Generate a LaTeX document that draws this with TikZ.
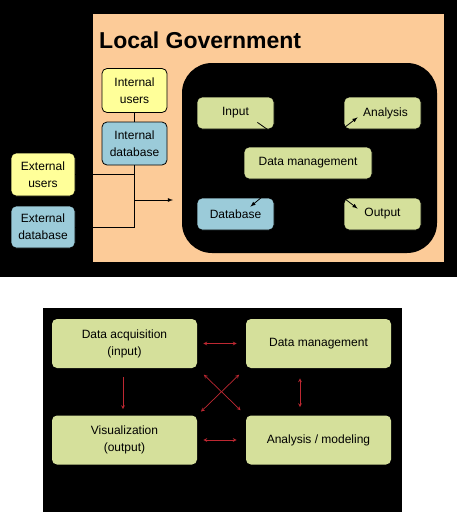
\documentclass[tikz,border=0pt]{standalone}
\usepackage{fontspec}
\setmainfont{Liberation Sans}
\definecolor{peach}{RGB}{252,203,152}
\definecolor{useryellow}{RGB}{255,255,153}
\definecolor{dbblue}{RGB}{155,203,217}
\definecolor{stagegreen}{RGB}{213,224,155}
\definecolor{linkred}{RGB}{190,40,50}
\begin{document}
\begin{tikzpicture}[x=1pt,y=-1pt,
	box/.style={rounded corners=5pt,draw=black,line width=.8pt,align=center,inner sep=0pt,
		font=\fontsize{12}{17}\selectfont},
	userbox/.style={box,fill=useryellow,minimum width=65pt,minimum height=44pt},
	databox/.style={box,fill=dbblue,minimum width=65pt,minimum height=43pt},
	stagebox/.style={box,fill=stagegreen,minimum width=77pt,minimum height=32pt},
	phasebox/.style={box,draw=none,fill=stagegreen,minimum width=145pt,minimum height=49pt},
	link/.style={linkred,line width=.7pt,>=stealth}]
	\useasboundingbox (0,0) rectangle (457,512);
	\fill[white] (0,0) rectangle (457,512);
	\fill[black] (0,0) rectangle (457,277);
	\fill[black] (43,308) rectangle (402,512);
	% local government
	\fill[peach] (93,14) rectangle (444,262);
	\fill[black,rounded corners=30pt] (182,63) rectangle (437,253);
	\node[anchor=base west,inner sep=0pt,font=\fontsize{23}{26}\selectfont\bfseries] (title) at (99,48) {Local Government};
	\node[userbox] (intusr) at (134.5,90.5) {Internal\\users};
	\node[databox] (intdb) at (134.5,143.5) {Internal\\database};
	\node[userbox,minimum width=64pt,minimum height=43pt] (extusr) at (43,174.5) {External\\users};
	\node[databox,minimum width=64pt,minimum height=42pt] (extdb) at (43,227) {External\\database};
	\coordinate (feed) at (173,200);
	\draw[line width=.8pt] (intusr) -- (intdb);
	\draw[line width=.8pt] (intdb.south) |- (extdb.east);
	\draw[line width=.8pt] (extusr.east) -- (extusr.east -| intdb.south);
	\draw[line width=.8pt,-latex] (intdb.south |- feed) -- (feed);
	% system
	\node[stagebox] (inp) at (235.5,113) {Input};
	\node[stagebox] (ana) at (382.5,113) {\hspace{6pt}Analysis};
	\node[stagebox,minimum width=128pt] (dm) at (308,163) {Data management};
	\node[stagebox,fill=dbblue] (db) at (235.5,214) {Database};
	\node[stagebox] (out) at (382.5,214) {Output};
	\draw[line width=.8pt] (inp.south east) ++(-7,0) -- ++(-10,-7);
	\draw[line width=.8pt,-latex] (ana.south west) ++(1,-2) -- ++(13,-10);
	\draw[line width=.8pt,-latex] (db.north east) ++(-12,-1) -- ++(-12,10);
	\draw[line width=.8pt,-latex] (out.north west) ++(1,1) -- ++(13,10);
	% cycle
	\node[phasebox] (acq) at (124.5,343.5) {Data acquisition\\(input)};
	\node[phasebox] (dmg) at (318.5,343.5) {Data management};
	\node[phasebox] (vis) at (124.5,440) {Visualization\\(output)};
	\node[phasebox] (mod) at (318.5,440) {Analysis / modeling};
	\draw[link,<->,shorten <=6pt,shorten >=9pt] (acq) -- (dmg);
	\draw[link,<->,shorten <=6pt,shorten >=9pt] (vis) -- (mod);
	\draw[link,->,shorten <=9pt,shorten >=6pt] ([xshift=-1.5pt]acq.south) -- ([xshift=-1.5pt]vis.north);
	\draw[link,<->,shorten <=10pt,shorten >=8pt] ([xshift=-18.5pt]dmg.south) -- ([xshift=-18.5pt]mod.north);
	\draw[link,<->,shorten <=9pt,shorten >=7pt] (acq.south east) -- (mod.north west);
	\draw[link,<->,shorten <=5pt,shorten >=9pt] (vis.north east) -- (dmg.south west);
\end{tikzpicture}
\end{document}
